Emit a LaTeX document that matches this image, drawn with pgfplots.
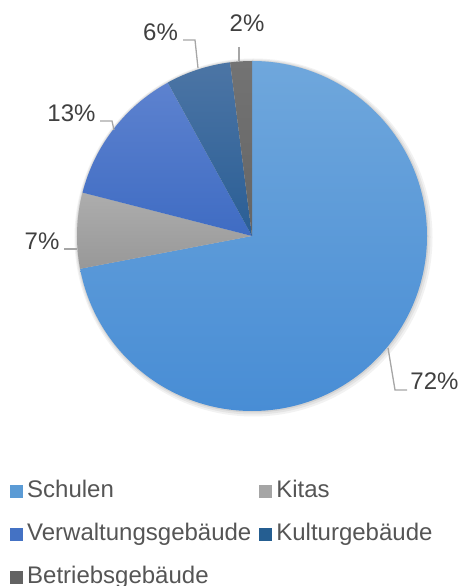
\documentclass[border=0pt]{standalone}
\usepackage{pgfplots}
\pgfplotsset{compat=1.18}
\usepackage{fontspec}
\setmainfont{Liberation Sans}

% Office-style colours
\definecolor{schulenA}{HTML}{6FA7DC}
\definecolor{schulenB}{HTML}{488DD5}
\definecolor{kitasA}{HTML}{ADADAD}
\definecolor{kitasB}{HTML}{989898}
\definecolor{verwA}{HTML}{5D82CF}
\definecolor{verwB}{HTML}{3F6CC3}
\definecolor{kultA}{HTML}{4C75A5}
\definecolor{kultB}{HTML}{2A5E95}
\definecolor{betrA}{HTML}{737373}
\definecolor{betrB}{HTML}{656565}
\definecolor{legSchulen}{HTML}{5B9BD5}
\definecolor{legKitas}{HTML}{A5A5A5}
\definecolor{legVerw}{HTML}{4472C4}
\definecolor{legKult}{HTML}{255E91}
\definecolor{legBetr}{HTML}{636363}
\definecolor{leader}{HTML}{A6A6A6}
\definecolor{labtext}{HTML}{404040}
\definecolor{legtext}{HTML}{555555}

\newcommand{\chartfont}{\fontsize{24bp}{28bp}\selectfont}

% shares in percent: Schulen 72, Kitas 7, Verwaltung 13, Kultur 6, Betrieb 2
% slice angles run clockwise from 90 deg, 3.6 deg per percent
\begin{document}
\begin{tikzpicture}
\begin{axis}[
  name=ax,
  x=1bp, y=1bp,
  xmin=0, xmax=460, ymin=0, ymax=586,
  scale only axis, hide axis, clip=false,
  legend columns=2,
  legend cell align=left,
  legend image code/.code={\fill[#1] (0bp,-6.5bp) rectangle (13bp,6.5bp);},
  legend style={
    at={(axis description cs:0.0217,0.1801)}, anchor=north west,
    draw=none, fill=none, inner sep=0pt,
    font=\chartfont, text=legtext,
    nodes={inner sep=0pt, text height=17bp, text depth=5bp},
    row sep=21bp,
    /tikz/every odd column/.style={column sep=4bp},
    /tikz/every even column/.style={column sep=8bp},
  },
]
% soft shadow
\fill[black, opacity=0.05] (axis cs:253.5,348.5) circle[radius=179bp];
\fill[black, opacity=0.06] (axis cs:253,349) circle[radius=177.5bp];
\fill[black, opacity=0.08] (axis cs:252.5,349.5) circle[radius=176bp];

% Schulen 72
\addplot[forget plot, draw=none, no markers, top color=schulenA, bottom color=schulenB]
  coordinates {(252,350) (252,525)} arc[start angle=90, end angle=-169.2, radius=175bp] -- cycle;
% Kitas 7
\addplot[forget plot, draw=none, no markers, top color=kitasA, bottom color=kitasB]
  coordinates {(252,350) (80.1,317.2)} arc[start angle=-169.2, end angle=-194.4, radius=175bp] -- cycle;
% Verwaltungsgebaeude 13
\addplot[forget plot, draw=none, no markers, top color=verwA, bottom color=verwB]
  coordinates {(252,350) (82.5,393.4)} arc[start angle=-194.4, end angle=-241.2, radius=175bp] -- cycle;
% Kulturgebaeude 6
\addplot[forget plot, draw=none, no markers, top color=kultA, bottom color=kultB]
  coordinates {(252,350) (167.7,503.4)} arc[start angle=-241.2, end angle=-262.8, radius=175bp] -- cycle;
% Betriebsgebaeude 2
\addplot[forget plot, draw=none, no markers, top color=betrA, bottom color=betrB]
  coordinates {(252,350) (230.1,523.6)} arc[start angle=-262.8, end angle=-270, radius=175bp] -- cycle;

% leader lines
\addplot[forget plot, leader, line width=1.3bp, no markers] coordinates {(388,238) (395,196) (407,196)};
\addplot[forget plot, leader, line width=1.3bp, no markers] coordinates {(64,337) (77,337)};
\addplot[forget plot, leader, line width=1.3bp, no markers] coordinates {(100,465) (112,465) (114,456)};
\addplot[forget plot, leader, line width=1.3bp, no markers] coordinates {(183,546) (195,546) (198,518)};
\addplot[forget plot, leader, line width=1.3bp, no markers] coordinates {(239,539) (239,525)};

% data labels
\node[text=labtext, font=\chartfont, inner sep=0pt] at (axis cs:434.5,204.5) {72\%};
\node[text=labtext, font=\chartfont, inner sep=0pt] at (axis cs:42,345) {7\%};
\node[text=labtext, font=\chartfont, inner sep=0pt] at (axis cs:71.5,472.5) {13\%};
\node[text=labtext, font=\chartfont, inner sep=0pt] at (axis cs:160.5,554) {6\%};
\node[text=labtext, font=\chartfont, inner sep=0pt] at (axis cs:247,562.5) {2\%};

% legend
\addlegendimage{fill=legSchulen, draw=none}
\addlegendentry{Schulen}
\addlegendimage{fill=legKitas, draw=none}
\addlegendentry{Kitas}
\addlegendimage{fill=legVerw, draw=none}
\addlegendentry{Verwaltungsgebäude}
\addlegendimage{fill=legKult, draw=none}
\addlegendentry{Kulturgebäude}
\addlegendimage{fill=legBetr, draw=none}
\addlegendentry{Betriebsgebäude}
\end{axis}
\pgfresetboundingbox
\path (ax.south west) rectangle (ax.north east);
\end{tikzpicture}
\end{document}
